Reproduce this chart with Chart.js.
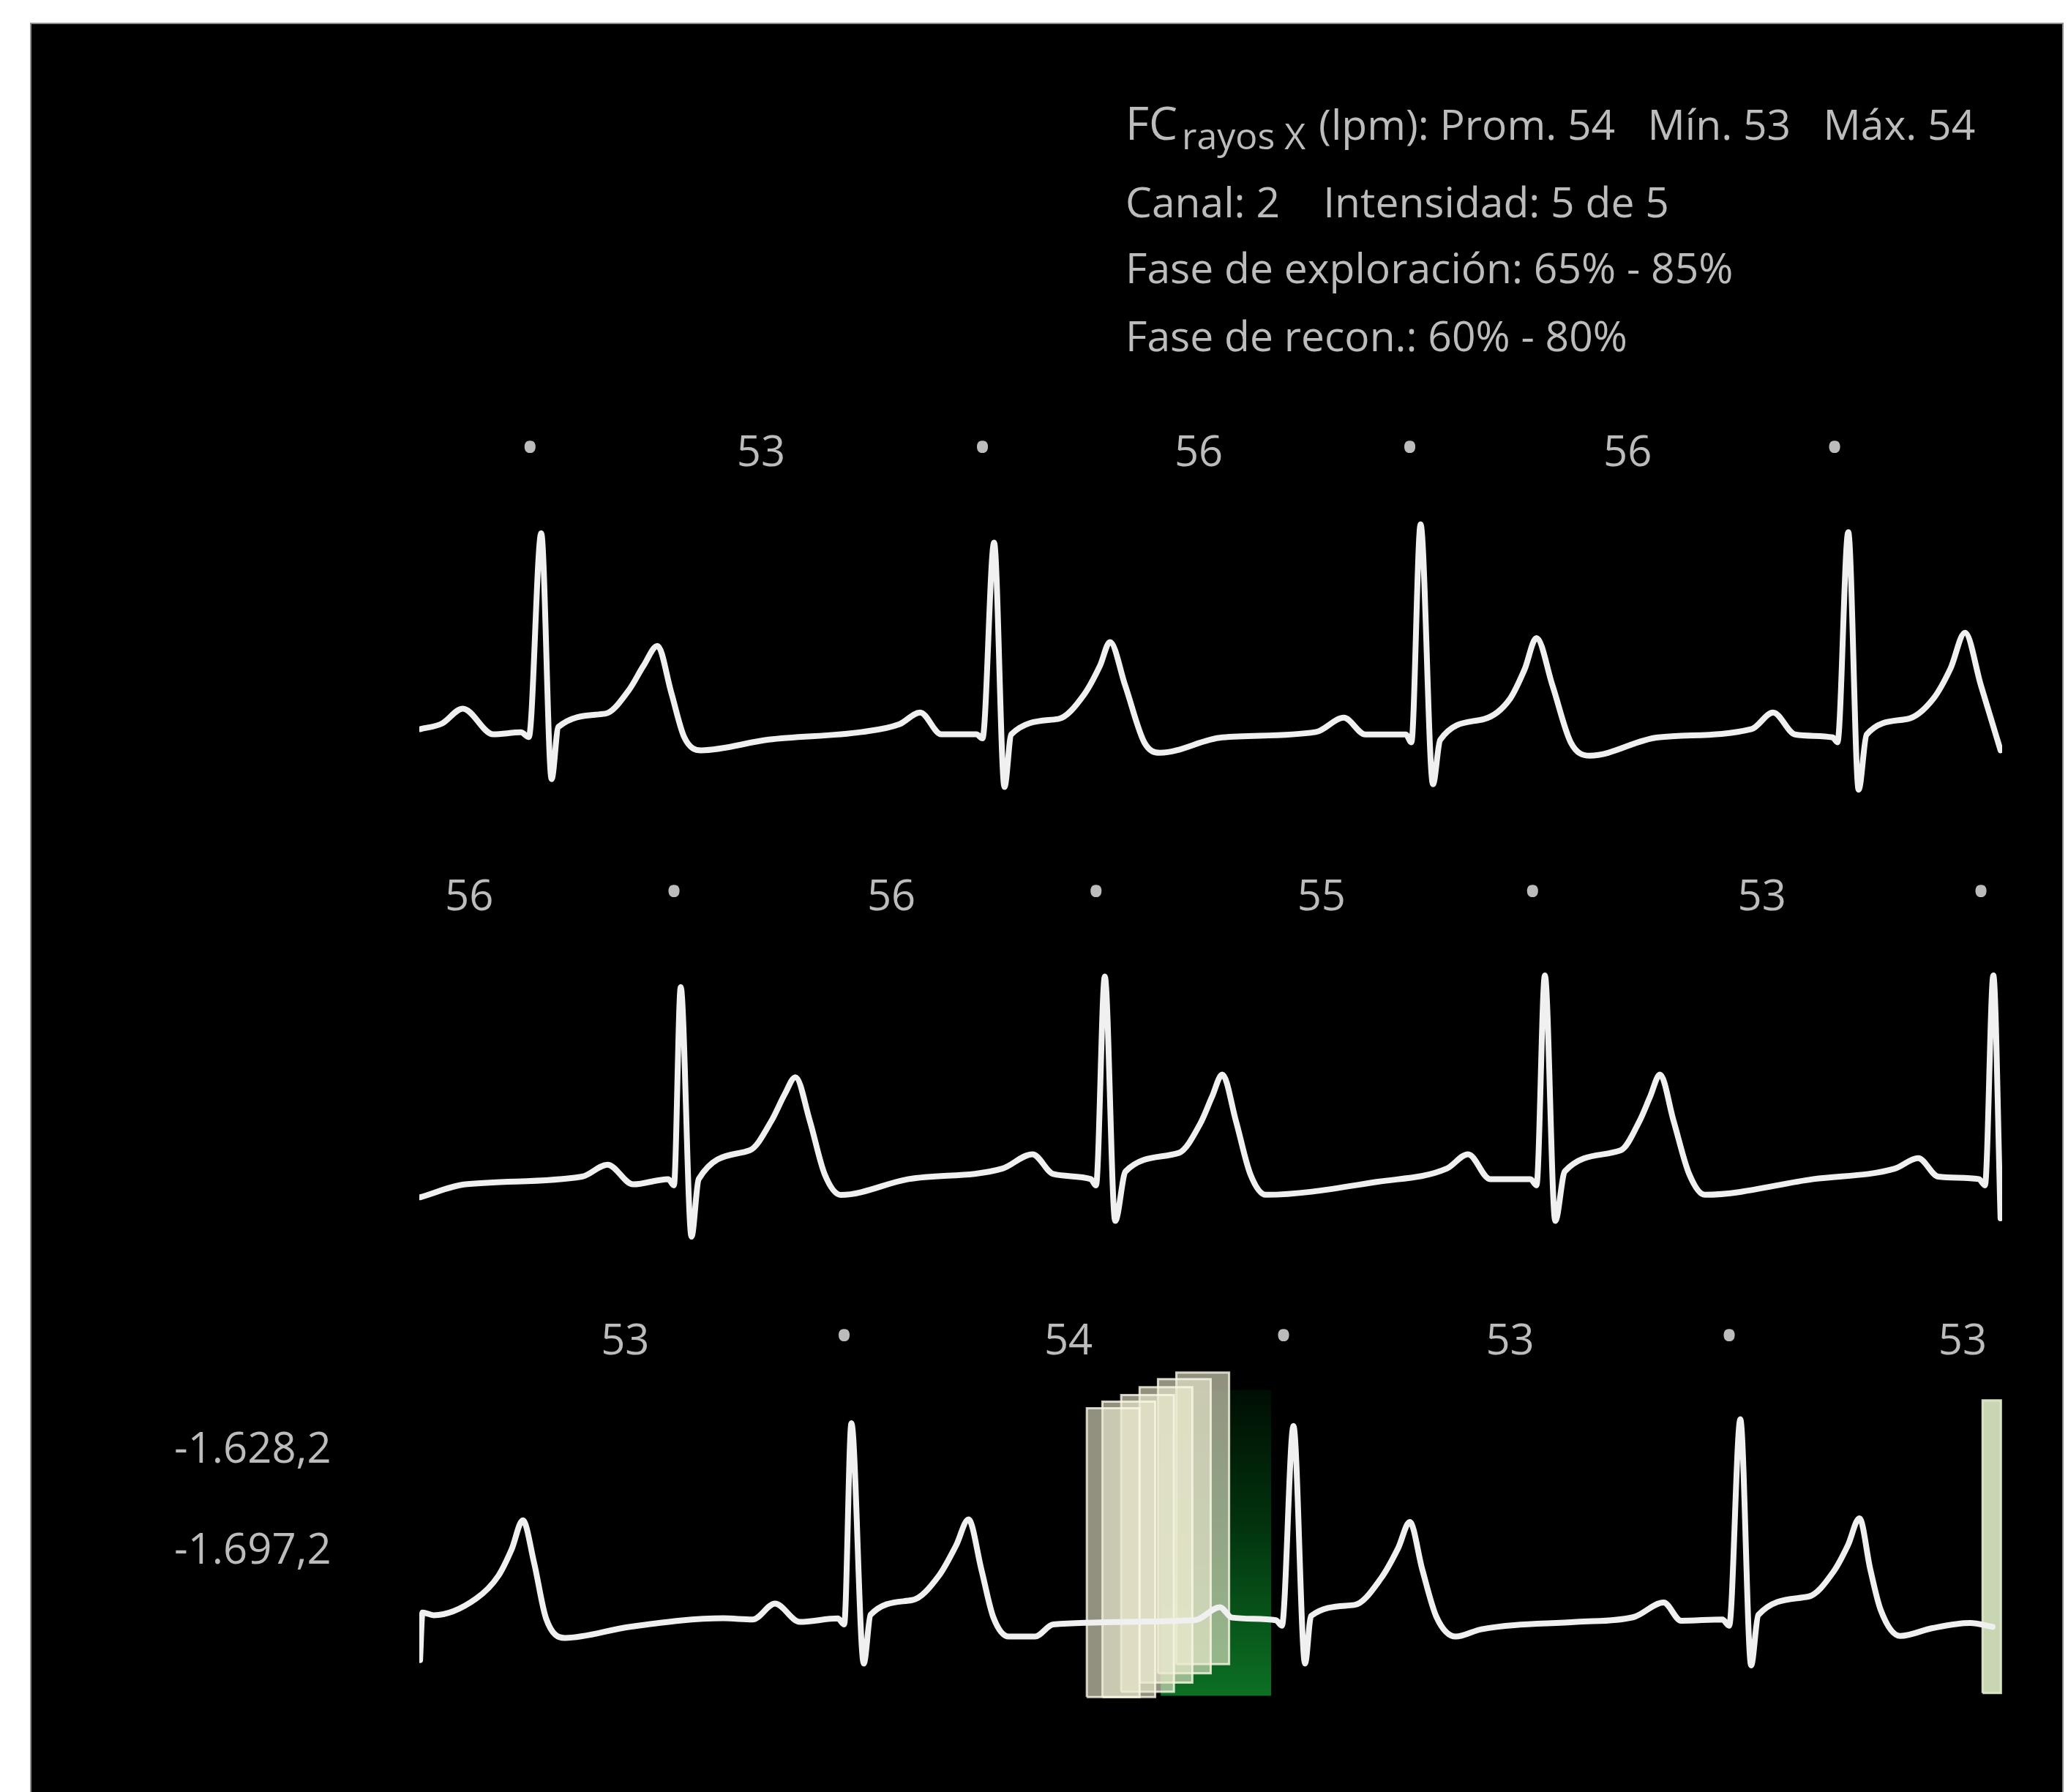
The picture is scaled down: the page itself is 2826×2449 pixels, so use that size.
<!DOCTYPE html>
<html>
<head>
<meta charset="utf-8">
<script src="https://cdn.jsdelivr.net/npm/chart.js@4.4.1/dist/chart.umd.min.js"></script>
<style>
html,body{margin:0;padding:0;background:#ffffff;}
canvas{display:block;}
</style>
</head>
<body>
<canvas id="c" width="2826" height="2449"></canvas>
<script>
// ---------- DATA (time in ms within each strip, amplitude in display units) ----------
const row1T = [3,56,109,185,254,274,305,331,348,465,524,561,596,630,663,705,
  874,1107,1201,1253,1306,1394,1409,1438,1464,1481,1598,1663,1703,1728,1766,1814,1853,
  2009,2243,2313,2367,2468,2482,2505,2536,2554,2663,2729,2765,2795,2835,2881,2928,
  3099,3333,3387,3442,3536,3548,3575,3601,3621,3722,3788,3831,3867,3907,3956];
const row1V = [-1742.2,-1738.5,-1728.2,-1745.8,-1744.4,-1747.6,-1608.4,-1776.4,-1740.7,-1731.7,-1715.7,-1698.9,-1685.4,-1716.9,-1747.8,-1756.7,
  -1749.4,-1744.2,-1738.9,-1730.9,-1745.8,-1745.8,-1748.5,-1614.8,-1781.8,-1745.8,-1735.3,-1718.7,-1698.9,-1682.7,-1712.4,-1751.4,-1758.4,
  -1747.9,-1744.2,-1734.4,-1745.9,-1745.9,-1751.2,-1602.3,-1779.9,-1749.6,-1735.4,-1721.4,-1701.6,-1680.0,-1712.4,-1751.4,-1760.4,
  -1747.9,-1742.2,-1730.9,-1745.9,-1747.9,-1751.2,-1607.6,-1783.6,-1745.9,-1735.4,-1721.4,-1700.7,-1676.4,-1712.4,-1756.7];

const row2T = [3,115,407,471,535,623,637,654,681,699,827,881,914,941,977,1014,1055,
  1224,1458,1534,1586,1680,1693,1715,1741,1767,1900,1954,1983,2009,2043,2079,2118,
  2398,2570,2624,2679,2780,2795,2816,2842,2866,3006,3053,3079,3104,3138,3177,3216,
  3488,3691,3750,3800,3902,3917,3938,3956];
const row2V = [-1758.6,-1749.8,-1744.5,-1736.4,-1749.8,-1746.2,-1750.5,-1615.0,-1785.5,-1746.2,-1726.5,-1706.4,-1688.3,-1676.6,-1706.4,-1742.7,-1757.0,
  -1746.2,-1739.1,-1729.2,-1742.7,-1746.2,-1750.5,-1607.8,-1774.8,-1740.9,-1728.3,-1708.2,-1690.1,-1674.8,-1706.4,-1742.7,-1756.9,
  -1748.0,-1739.1,-1729.2,-1746.2,-1746.2,-1750.5,-1607.0,-1774.8,-1740.9,-1726.5,-1706.4,-1690.1,-1674.8,-1706.4,-1742.7,-1756.9,
  -1746.2,-1739.1,-1731.9,-1744.5,-1746.2,-1750.5,-1607.0,-1773.0];

const row3T = [2,8,36,142,198,231,259,287,317,364,
  527,761,834,890,952,1047,1063,1081,1112,1129,1233,1300,1343,1374,1406,1436,1475,
  1540,1586,1941,2003,2033,2143,2158,2187,2216,2231,2339,2406,2449,2478,2509,2545,2593,
  2657,2895,3038,3113,3157,3260,3277,3305,3332,3350,3475,3538,3574,3603,3630,3656,3705,
  3786,3880,3936];
const row3V = [-1771.4,-1738.9,-1740.7,-1729.4,-1713.7,-1695.7,-1675.9,-1704.7,-1742.8,-1756.2,
  -1748.6,-1742.8,-1743.6,-1732.8,-1745.3,-1742.9,-1747.0,-1609.5,-1773.7,-1740.4,-1730.4,-1713.7,-1693.0,-1675.3,-1709.2,-1742.0,-1755.3,
  -1755.3,-1747.0,-1744.0,-1735.2,-1742.3,-1744.1,-1747.9,-1611.4,-1773.7,-1741.2,-1733.7,-1715.5,-1694.8,-1677.0,-1709.2,-1742.0,-1755.3,
  -1750.3,-1745.3,-1742.0,-1732.0,-1744.5,-1743.6,-1747.9,-1606.8,-1775.0,-1740.5,-1728.0,-1711.0,-1693.0,-1674.5,-1709.2,-1737.0,-1754.9,
  -1749.5,-1746.0,-1748.6];

// heart-rate labels above each strip (• marks the detected R wave)
const row1LabelT = [277,855,1409,1950,2478,3023,3541];
const row1LabelText = ['•','53','•','56','•','56','•'];
const row2LabelT = [125,637,1181,1693,2257,2785,3359,3907];
const row2LabelText = ['56','•','56','•','55','•','53','•'];
const row3LabelT = [515,1063,1624,2162,2729,3277,3861];
const row3LabelText = ['53','•','54','•','53','•','53'];

// reconstruction windows (strip 3)
const recStart  = [1670,1709,1756,1802,1848,1894,3911];
const recEnd    = [1802,1841,1888,1934,1980,2026,3957];
const recTop    = [-1599.3,-1594.8,-1590.3,-1584.9,-1579.4,-1574.9,-1593.9];
const recBottom = [-1796.6,-1796.6,-1793.0,-1786.7,-1780.4,-1774.1,-1793.9];

// exploration window (strip 3)
const expStart = [1855];
const expEnd = [2131];
const expTop = [-1586.7];
const expBottom = [-1795.7];

// y-axis ticks (strip 3)
const yTickValues = [-1628.2, -1697.2];
const yTickLabels = ['-1.628,2', '-1.697,2'];

// info block
const infoTitle = 'FC';
const infoSub = 'rayos X';
const infoRest = '(lpm): Prom. 54   Mín. 53   Máx. 54';
const infoLines = ['Canal: 2    Intensidad: 5 de 5', 'Fase de exploración: 65% - 85%', 'Fase de recon.: 60% - 80%'];

const labelLevel = -1552;

// ---------- BUILD ----------
const toXY = (ts, vs) => ts.map((t, i) => ({x: t, y: vs[i]}));
const rectXY = (x0, x1, top, bot) => [{x:x0,y:bot},{x:x0,y:top},{x:x1,y:top},{x:x1,y:bot},{x:x0,y:bot}];

const TRACE = '#f0f0f0';
const TEXT = '#bcbcbc';

const ecg = (ts, vs, axis) => ({
  data: toXY(ts, vs), yAxisID: axis, borderColor: TRACE, borderWidth: 8,
  pointRadius: 0, fill: false, cubicInterpolationMode: 'monotone',
  borderJoinStyle: 'round', borderCapStyle: 'round', order: 0
});

const datasets = [
  ecg(row1T, row1V, 'y1'),
  ecg(row2T, row2V, 'y2'),
  ecg(row3T, row3V, 'y3'),
];

expStart.forEach((s, i) => {
  datasets.push({
    data: rectXY(s, expEnd[i], expTop[i], expBottom[i]), yAxisID: 'y3',
    fill: 'shape', borderWidth: 0, pointRadius: 0, order: 3,
    borderColor: 'rgba(0,0,0,0)',
    backgroundColor: (c) => {
      const ch = c.chart;
      if (!ch.chartArea) return 'rgba(0,80,20,1)';
      const ys = ch.scales.y3;
      const yt = ys.getPixelForValue(expTop[i]), yb = ys.getPixelForValue(expBottom[i]);
      const g = ch.ctx.createLinearGradient(0, yt, 0, yb);
      g.addColorStop(0, 'rgba(0,14,3,1)');
      g.addColorStop(0.45, 'rgba(2,52,14,1)');
      g.addColorStop(1, 'rgba(12,112,36,1)');
      return g;
    }
  });
});

recStart.forEach((s, i) => {
  const last = i === recStart.length - 1;
  datasets.push({
    data: rectXY(s, recEnd[i], recTop[i], recBottom[i]), yAxisID: 'y3',
    fill: 'shape', pointRadius: 0, order: 2,
    borderWidth: 3,
    borderColor: last ? 'rgba(225,235,205,0.9)' : 'rgba(250,248,230,0.8)',
    backgroundColor: last ? 'rgba(212,226,190,0.95)' : 'rgba(236,234,206,0.62)'
  });
});

const bgPlugin = {
  id: 'bg',
  beforeDraw(chart) {
    const {ctx, width, height} = chart;
    ctx.save();
    ctx.fillStyle = '#ffffff';
    ctx.fillRect(0, 0, width, height);
    ctx.fillStyle = '#000000';
    ctx.fillRect(42, 32, 2777, height - 32);
    ctx.strokeStyle = '#8c8c8c';
    ctx.lineWidth = 2;
    ctx.strokeRect(42, 32, 2777, height);
    ctx.restore();
  }
};

const rows = [
  {axis: 'y1', t: row1LabelT, s: row1LabelText},
  {axis: 'y2', t: row2LabelT, s: row2LabelText},
  {axis: 'y3', t: row3LabelT, s: row3LabelText},
];

const textPlugin = {
  id: 'texts',
  afterDatasetsDraw(chart) {
    const {ctx, scales} = chart;
    ctx.save();
    ctx.fillStyle = TEXT;
    ctx.textAlign = 'center';
    rows.forEach(r => {
      const y = scales[r.axis].getPixelForValue(labelLevel);
      r.t.forEach((t, i) => {
        const x = scales.x.getPixelForValue(t);
        const txt = r.s[i];
        if (txt === '•') {
          ctx.font = '72px "Open Sans"';
          ctx.textBaseline = 'middle';
          ctx.fillText(txt, x, y);
        } else {
          ctx.font = '58px "Open Sans"';
          ctx.textBaseline = 'alphabetic';
          ctx.fillText(txt, x, y + 58 * 0.357);
        }
      });
    });
    // info block
    const fs = 57;
    const lineY = [171, 277, 367, 460];
    const x0 = 1538;
    ctx.textAlign = 'left';
    ctx.textBaseline = 'alphabetic';
    let x = x0;
    const b0 = lineY[0] + fs * 0.357;
    ctx.font = '62px "Open Sans"';
    ctx.fillText(infoTitle, x, b0);
    x += ctx.measureText(infoTitle).width + 6;
    ctx.font = '50px "Open Sans"';
    ctx.fillText(infoSub, x, b0 + 13);
    x += ctx.measureText(infoSub).width + 18;
    ctx.font = fs + 'px "Open Sans"';
    ctx.fillText(infoRest, x, b0);
    infoLines.forEach((s, i) => ctx.fillText(s, x0, lineY[i + 1] + fs * 0.357));
    ctx.restore();
  }
};

new Chart(document.getElementById('c'), {
  type: 'line',
  data: {datasets},
  options: {
    responsive: false,
    animation: false,
    events: [],
    layout: {padding: {left: 238, right: 90, top: 560, bottom: 49}},
    plugins: {legend: {display: false}, tooltip: {enabled: false}},
    scales: {
      x: {type: 'linear', min: 0, max: 3960, display: false},
      y1: {type: 'linear', position: 'left', min: -2444, max: -1524, display: false},
      y2: {type: 'linear', position: 'left', min: -2140.5, max: -1220.5, display: false},
      y3: {
        type: 'linear', position: 'left', min: -1837, max: -917, display: true,
        grid: {display: false, drawTicks: false},
        border: {display: false},
        afterBuildTicks: (s) => { s.ticks = yTickValues.map(v => ({value: v})); },
        afterFit: (s) => { s.width = 335; },
        ticks: {
          autoSkip: false, padding: 0, crossAlign: 'far', color: TEXT,
          font: {family: 'Open Sans', size: 58},
          callback: (v, i) => yTickLabels[i]
        }
      }
    }
  },
  plugins: [bgPlugin, textPlugin]
});
</script>
</body>
</html>
